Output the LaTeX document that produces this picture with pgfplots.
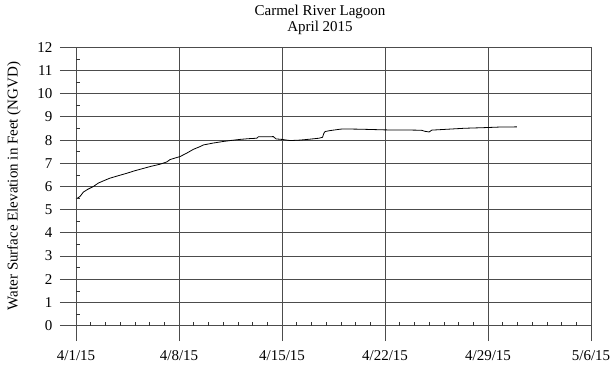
\documentclass[border=0pt]{standalone}
\usepackage{pgfplots}
\pgfplotsset{compat=1.18}
\usepackage{fontspec}
\setmainfont{Liberation Serif}
\begin{document}
\begin{tikzpicture}
\begin{axis}[
  at={(0,0)}, anchor=south west,
  scale only axis,
  width=531bp, height=293.7bp,
  xmin=-1.09, xmax=35,
  ymin=-0.66, ymax=12,
  axis line style={draw=none},
  major tick length=0pt,
  xtick={0,7,14,21,28,35},
  xticklabels={4/1/15,4/8/15,4/15/15,4/22/15,4/29/15,5/6/15},
  ytick={0,1,...,12},
  grid=major,
  major grid style={black!70, line width=0.8bp},
  tick label style={font=\fontsize{15bp}{18bp}\selectfont},
  /pgf/number format/assume math mode=true,
  yticklabel style={anchor=east, xshift=-4bp},
  xticklabel style={anchor=north, yshift=-6bp},
  clip=false,
]
\addplot[black, line width=0.8bp] coordinates {
(0,5.47) (0.1,5.50) (0.27,5.57) (0.5,5.76) (0.8,5.88) (1.18,6.00) (1.52,6.15)
(2.0,6.28) (2.31,6.36) (2.9,6.47) (3.45,6.57) (4.0,6.68) (4.58,6.78) (5.1,6.87)
(5.71,6.96) (6.17,7.06) (6.39,7.16) (6.8,7.24) (7.07,7.29) (7.53,7.44) (7.97,7.60)
(8.43,7.72) (8.65,7.79) (9.3,7.87) (10.0,7.94) (10.6,7.99) (11.15,8.03) (11.7,8.06)
(12.28,8.08) (12.39,8.14) (12.9,8.14) (13.41,8.15) (13.5,8.10) (13.6,8.05) (13.98,8.03)
(14.55,7.98) (15.23,8.00) (15.9,8.04) (16.5,8.08) (16.75,8.12) (16.85,8.30) (16.93,8.37)
(17.27,8.41) (17.95,8.47) (18.17,8.48) (19.3,8.47) (21.0,8.44) (23.05,8.43) (23.5,8.42)
(23.7,8.38) (24.0,8.35) (24.18,8.43) (25.3,8.47) (26.4,8.51) (27.9,8.54) (28.7,8.56)
(29.96,8.57)
};
\pgfplotsinvokeforeach{1,2,3,4,5,6,8,9,10,11,12,13,15,16,17,18,19,20,22,23,24,25,26,27,29,30,31,32,33,34}{
  \draw[black!80, line width=0.6bp] (axis cs:#1,0) -- ([yshift=3.5bp]axis cs:#1,0);
}
\pgfplotsinvokeforeach{0.5,1.5,2.5,3.5,4.5,5.5,6.5,7.5,8.5,9.5,10.5,11.5}{
  \draw[black!80, line width=0.6bp] (axis cs:0,#1) -- ([xshift=4bp]axis cs:0,#1);
}
\end{axis}
\node[font=\fontsize{15bp}{18bp}\selectfont, anchor=base] at (260bp,325bp) {Carmel River Lagoon};
\node[font=\fontsize{15bp}{18bp}\selectfont, anchor=base] at (260bp,309.5bp) {April 2015};
\node[font=\fontsize{15bp}{18bp}\selectfont, rotate=90] at (-46bp,155bp) {Water Surface Elevation in Feet (NGVD)};
\pgfresetboundingbox
\path[use as bounding box] (-60bp,-27bp) rectangle (552bp,341bp);
\end{tikzpicture}
\end{document}
